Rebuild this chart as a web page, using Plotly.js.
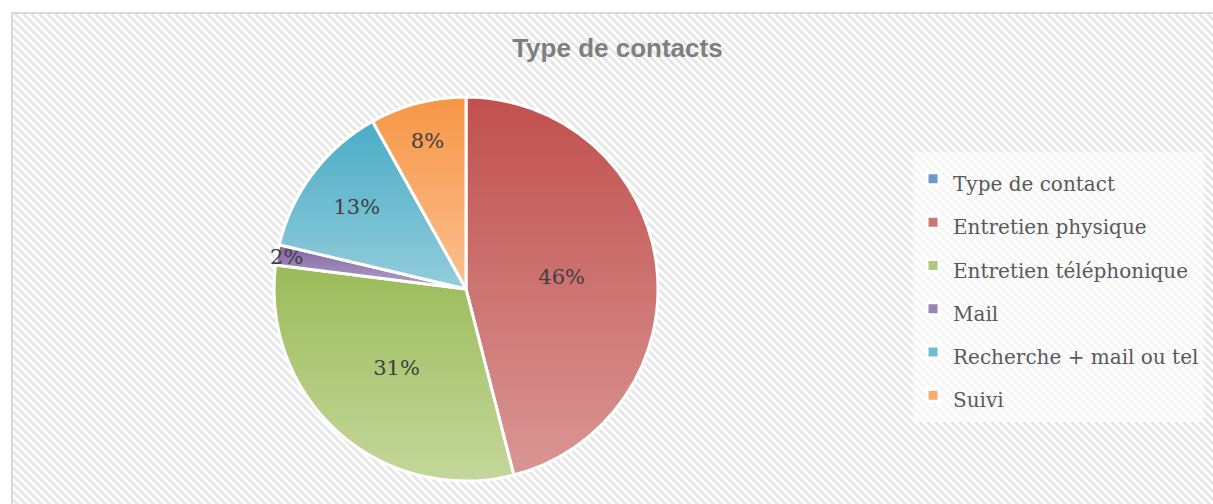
<!DOCTYPE html>
<html>
<head>
<meta charset="utf-8">
<script src="https://cdn.plot.ly/plotly-3.0.1.min.js"></script>
<style>
  html, body { margin: 0; padding: 0; background: #ffffff; width: 1213px; height: 504px; overflow: hidden; }
  #frame {
    position: absolute; left: 11px; top: 12px; width: 1210px; height: 500px;
    border-top: 2px solid #d9d9d9; border-left: 2px solid #d9d9d9;
    background: repeating-linear-gradient(45deg, #ffffff 0px, #ffffff 2.83px, #e7e7e7 2.83px, #e7e7e7 5.66px);
  }
  #chart { position: absolute; left: 0; top: 0; width: 1213px; height: 504px; }
</style>
</head>
<body>
<div id="frame"></div>
<div id="chart"></div>
<script>
// ---- data ----
const chartTitle = "Type de contacts";
const categories = ["Type de contact", "Entretien physique", "Entretien téléphonique", "Mail", "Recherche + mail ou tel", "Suivi"];
const shares = [0, 46, 31, 1.7, 13.2, 8.1];

// ---- styles ----
const midColors = ["#6f97c9", "#cd7572", "#b0c87b", "#9a84b6", "#6fbdd2", "#f9ab6b"];
const topColors = ["#4f81bd", "#c0504d", "#9bbb59", "#8064a2", "#4bacc6", "#f79646"];
const bottomColors = ["#95b3d7", "#da9694", "#c4d79b", "#b3a2c7", "#92cddc", "#fac090"];

const legendLabels = categories.map(c => '<span style="font-size:20px">' + c + '</span>');

const trace = {
  type: "pie",
  labels: legendLabels,
  values: shares,
  sort: false,
  direction: "clockwise",
  rotation: 0,
  marker: { colors: midColors, line: { color: "#ffffff", width: 3 } },
  texttemplate: "%{percent:.0%}",
  textposition: shares.map(v => v > 0 ? "inside" : "none"),
  insidetextorientation: "horizontal",
  textfont: { family: "DejaVu Serif, serif", size: 21, color: "#404040" },
  hoverinfo: "label+percent",
  domain: { x: [0.2251, 0.5433], y: [0.0456, 0.8075] }
};

const layout = {
  width: 1213, height: 504,
  margin: { l: 0, r: 0, t: 0, b: 0, autoexpand: false },
  paper_bgcolor: "rgba(0,0,0,0)",
  plot_bgcolor: "rgba(0,0,0,0)",
  uniformtext: { mode: "show", minsize: 21 },
  title: {
    text: "<b>" + chartTitle + "</b>",
    font: { family: "Liberation Sans, Arial, sans-serif", size: 26, color: "#7f7f7f" },
    x: 0.509, xref: "paper", xanchor: "center",
    y: 0.904, yref: "container", yanchor: "middle"
  },
  showlegend: true,
  legend: {
    x: 0.7527, xanchor: "left",
    y: 0.698, yanchor: "top",
    bgcolor: "rgba(255,255,255,0.6)",
    borderwidth: 0,
    font: { family: "DejaVu Serif, serif", size: 31, color: "#595959" }
  }
};

Plotly.newPlot("chart", [trace], layout, { displayModeBar: false, staticPlot: true }).then(gd => {
  const svg = gd.querySelector("svg.main-svg");
  const ns = "http://www.w3.org/2000/svg";
  let defs = svg.querySelector("defs");
  if (!defs) { defs = document.createElementNS(ns, "defs"); svg.insertBefore(defs, svg.firstChild); }
  topColors.forEach((c, i) => {
    const g = document.createElementNS(ns, "linearGradient");
    g.setAttribute("id", "sliceGrad" + i);
    g.setAttribute("x1", "0"); g.setAttribute("y1", "0");
    g.setAttribute("x2", "0"); g.setAttribute("y2", "1");
    const s1 = document.createElementNS(ns, "stop");
    s1.setAttribute("offset", "0"); s1.setAttribute("stop-color", c);
    const s2 = document.createElementNS(ns, "stop");
    s2.setAttribute("offset", "1"); s2.setAttribute("stop-color", bottomColors[i]);
    g.appendChild(s1); g.appendChild(s2);
    defs.appendChild(g);
  });
  gd.querySelectorAll("g.slice").forEach(sl => {
    const d = sl.__data__;
    if (!d) return;
    const p = sl.querySelector("path.surface");
    if (p) p.style.fill = "url(#sliceGrad" + d.i + ")";
  });
});
</script>
</body>
</html>
